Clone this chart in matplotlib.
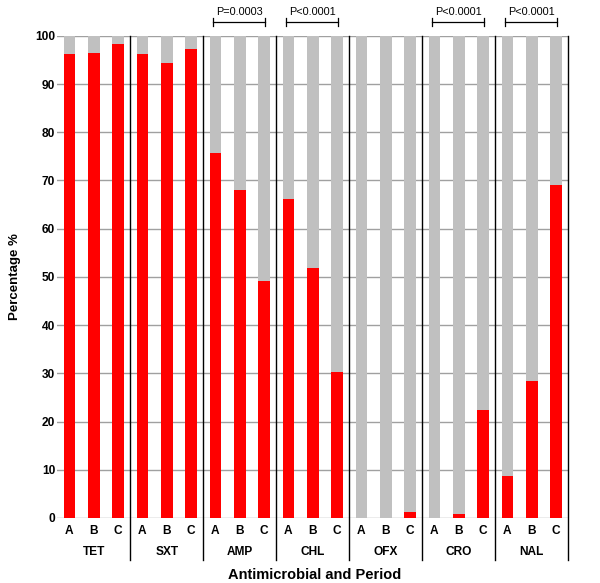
import numpy as np
import matplotlib.pyplot as plt
import matplotlib as mpl

mpl.rcParams['font.family'] = ['Liberation Sans', 'DejaVu Sans']

drugs = ['TET', 'SXT', 'AMP', 'CHL', 'OFX', 'CRO', 'NAL']
periods = ['A', 'B', 'C']
resistant = {
    'TET': [96.2, 96.4, 98.3],
    'SXT': [96.2, 94.4, 97.3],
    'AMP': [75.6, 68.0, 49.1],
    'CHL': [66.1, 51.8, 30.2],
    'OFX': [0.0, 0.0, 1.3],
    'CRO': [0.0, 0.9, 22.5],
    'NAL': [8.7, 28.5, 69.0],
}
pvalues = {'AMP': 'P=0.0003', 'CHL': 'P<0.0001', 'CRO': 'P<0.0001', 'NAL': 'P<0.0001'}

red = '#ff0000'
grey = '#c0c0c0'

fig = plt.figure(figsize=(6.0, 5.83), dpi=100)
ax = fig.add_axes([0.0955, 0.1115, 0.8515, 0.827])

vals = np.array([resistant[d] for d in drugs]).ravel()
x = np.arange(len(vals))
ax.bar(x, vals, width=0.48, color=red, zorder=2)
ax.bar(x, 100 - vals, bottom=vals, width=0.48, color=grey, zorder=2)

ax.set_xlim(-0.5, len(vals) - 0.5)
ax.set_ylim(0, 100)
ax.set_yticks(np.arange(0, 101, 10))
ax.set_xticks([])
ax.yaxis.grid(True, color='#a0a0a0', linewidth=1, zorder=0)
ax.tick_params(axis='y', length=0, pad=1.5, labelsize=8.6)
for lab in ax.get_yticklabels():
    lab.set_fontweight('bold')
for s in ax.spines.values():
    s.set_visible(False)

# period letters, drug names, separators
for i, d in enumerate(drugs):
    for j, p in enumerate(periods):
        ax.text(3 * i + j, -2.6, p, ha='center', va='center',
                fontsize=8.6, fontweight='bold', clip_on=False)
    ax.text(3 * i + 1, -7.0, d, ha='center', va='center',
            fontsize=8.6, fontweight='bold', clip_on=False)
    xs = 3 * i + 2.5
    ax.plot([xs, xs], [-8.7, 100], color='black', linewidth=1, clip_on=False, zorder=3)

# significance brackets
for d, txt in pvalues.items():
    i = drugs.index(d)
    x0, x1 = 3 * i - 0.08, 3 * i + 2.05
    ax.plot([x0, x1], [102.8, 102.8], color='black', linewidth=0.9, clip_on=False)
    ax.plot([x0, x0], [102.0, 103.6], color='black', linewidth=0.9, clip_on=False)
    ax.plot([x1, x1], [102.0, 103.6], color='black', linewidth=0.9, clip_on=False)
    ax.text((x0 + x1) / 2, 104.3, txt, ha='center', va='baseline', fontsize=7.8, clip_on=False)

ax.set_ylabel('Percentage %', fontsize=9.5, fontweight='bold', labelpad=10)
fig.text(0.525, 0.0137, 'Antimicrobial and Period', ha='center', va='center',
         fontsize=10.5, fontweight='bold')

fig.savefig('out.png', dpi=100)
